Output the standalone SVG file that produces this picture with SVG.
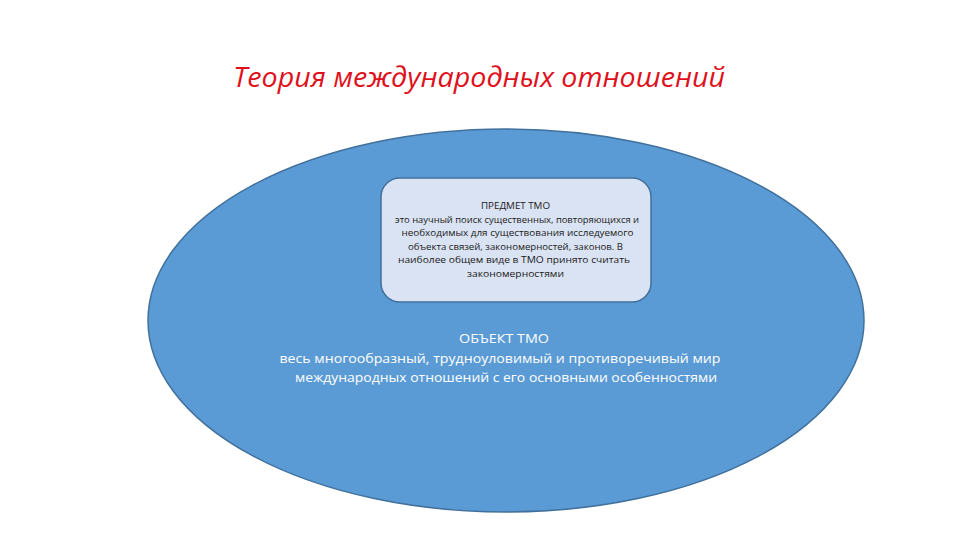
<svg xmlns="http://www.w3.org/2000/svg" width="960" height="540" viewBox="0 0 960 540">
<style>
.title{font-family:"Open Sans","Liberation Sans",sans-serif;font-style:italic;font-size:28px;fill:#e0101c;}
.small{font-family:"Open Sans","Liberation Sans",sans-serif;font-size:9.5px;fill:#1a1a1a;text-anchor:middle;}
.obj{font-family:"Open Sans","Liberation Sans",sans-serif;font-size:13px;fill:#ffffff;text-anchor:middle;}
</style>
<rect width="960" height="540" fill="#ffffff"/>
<text class="title" x="233" y="87" textLength="492" lengthAdjust="spacingAndGlyphs">Теория международных отношений</text>
<g id="object">
<ellipse cx="506" cy="320.5" rx="358" ry="191.5" fill="#5b9bd5" stroke="#41719c" stroke-width="1.5"/>
<text class="obj" x="504" y="343" textLength="90" lengthAdjust="spacingAndGlyphs">ОБЪЕКТ ТМО</text>
<text class="obj" x="500" y="362.5" textLength="441" lengthAdjust="spacingAndGlyphs">весь многообразный, трудноуловимый и противоречивый мир</text>
<text class="obj" x="506" y="382" textLength="422" lengthAdjust="spacingAndGlyphs">международных отношений с его основными особенностями</text>
</g>
<g id="subject">
<rect x="381" y="178" width="270" height="124" rx="19" ry="19" fill="#dae3f3" stroke="#41719c" stroke-width="1.5"/>
<text class="small" x="515.5" y="209" textLength="69" lengthAdjust="spacingAndGlyphs">ПРЕДМЕТ ТМО</text>
<text class="small" x="517" y="222.5" textLength="244" lengthAdjust="spacingAndGlyphs">это научный поиск существенных, повторяющихся и</text>
<text class="small" x="517.5" y="236" textLength="232" lengthAdjust="spacingAndGlyphs">необходимых для существования исследуемого</text>
<text class="small" x="515.5" y="249.5" textLength="215" lengthAdjust="spacingAndGlyphs">объекта связей, закономерностей, законов. В</text>
<text class="small" x="514" y="263" textLength="232" lengthAdjust="spacingAndGlyphs">наиболее общем виде в ТМО принято считать</text>
<text class="small" x="515.5" y="276.5" textLength="97" lengthAdjust="spacingAndGlyphs">закономерностями</text>
</g>
<g id="connectors"></g>
</svg>
